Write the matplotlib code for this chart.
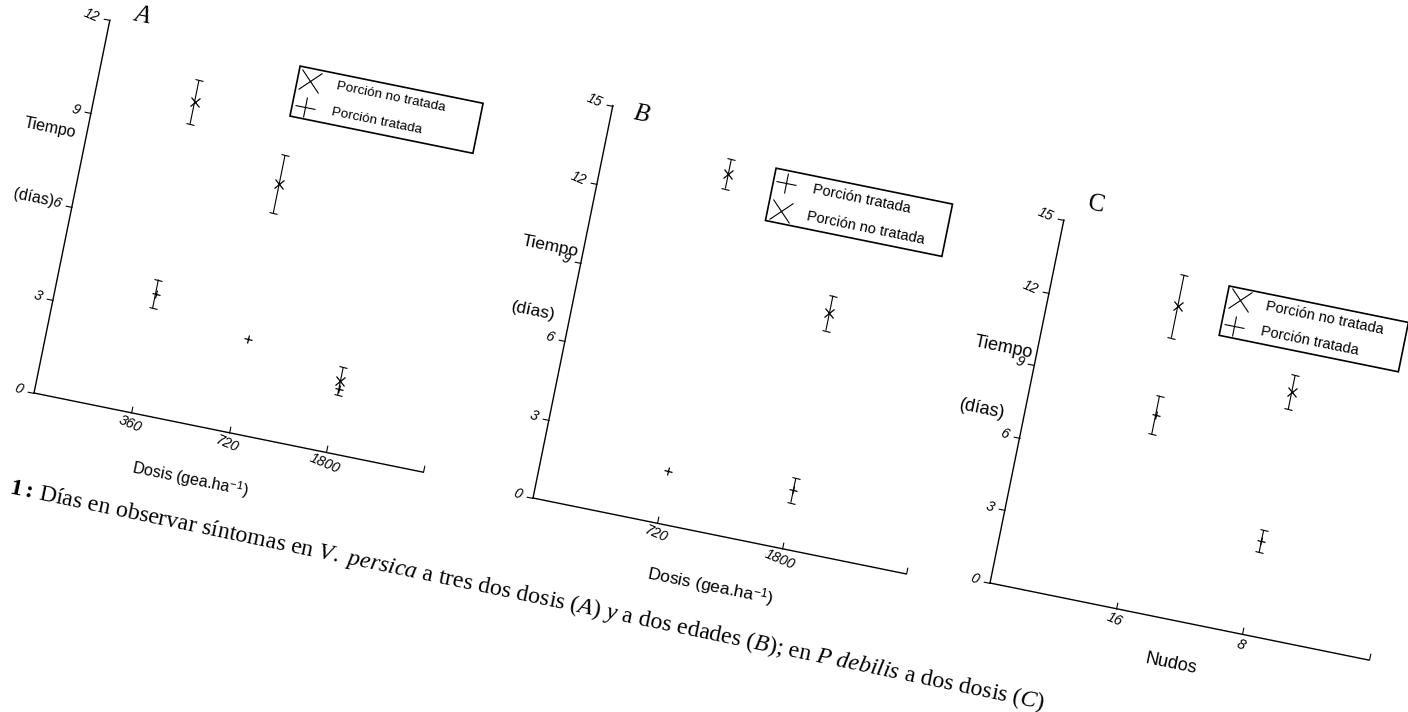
import numpy as np
import matplotlib
matplotlib.use('Agg')
import matplotlib.pyplot as plt
from matplotlib.transforms import Affine2D
from matplotlib.markers import MarkerStyle
from matplotlib.patches import Rectangle
import mpl_toolkits.axisartist.floating_axes as floating_axes
from mpl_toolkits.axisartist.grid_finder import FixedLocator, DictFormatter

plt.rcParams['font.family'] = ['Liberation Sans', 'DejaVu Sans']
plt.rcParams['mathtext.fontset'] = 'custom'
plt.rcParams['mathtext.rm'] = 'Liberation Serif'
plt.rcParams['mathtext.it'] = 'Liberation Serif:italic'
plt.rcParams['mathtext.bf'] = 'Liberation Serif:bold'
plt.rcParams['mathtext.sf'] = 'Liberation Sans'

# --- data ---
# A: V. persica, three doses
a_labels = ['360', '720', '1800']
a_no_tratada = [10.0, 8.0, 2.3]
a_no_tratada_err = [0.7, 0.93, 0.45]
a_tratada = [3.83, 3.0, 2.05]
a_tratada_err = [0.46, 0.0, 0.0]

# B: V. persica, two ages
b_labels = ['720', '1800']
b_no_tratada = [13.35, 9.0]
b_no_tratada_err = [0.56, 0.67]
b_tratada = [2.0, 2.22]
b_tratada_err = [0.0, 0.46]

# C: P. debilis, two doses
c_labels = ['16', '8']
c_no_tratada = [12.5, 10.0]
c_no_tratada_err = [1.3, 0.7]
c_tratada = [8.0, 3.85]
c_tratada_err = [0.8, 0.45]

NO_TRAT = 'Porción no tratada'
TRAT = 'Porción tratada'

W, H = 1408, 712
ANG = 11.5  # the scan is tilted clockwise
rot = Affine2D().rotate_deg(-ANG)

panels = [
    dict(letter='A', letter_style='italic', labels=a_labels,
         series=[(a_no_tratada, a_no_tratada_err, 'x'), (a_tratada, a_tratada_err, '+')],
         legend_rows=[(NO_TRAT, 'x'), (TRAT, '+')],
         xlabel=r'Dosis (gea.ha$^{\mathsf{-1}}$)',
         origin=(34, 393), ux=99.3, uy=31.7, xmax=4, ymax=12,
         legend=(1.97, 3.85, 10.17, 11.78), fs_leg=9.7, fs_lab=11.5,
         tiempo=(-0.38, 8.3), dias=(-0.40, 6.02), xlab=(1.71, -1.70), let=(0.31, 12.33)),
    dict(letter='B', letter_style='italic', labels=b_labels,
         series=[(b_no_tratada, b_no_tratada_err, 'x'), (b_tratada, b_tratada_err, '+')],
         legend_rows=[(TRAT, '+'), (NO_TRAT, 'x')],
         xlabel=r'Dosis (gea.ha$^{\mathsf{-1}}$)',
         origin=(533, 498), ux=126.8, uy=26.7, xmax=3, ymax=15,
         legend=(1.36, 2.78, 11.92, 13.92), fs_leg=10.5, fs_lab=12.5,
         tiempo=(-0.26, 9.37), dias=(-0.29, 6.85), xlab=(1.51, -1.95), let=(0.235, 14.88)),
    dict(letter='C', letter_style='normal', labels=c_labels,
         series=[(c_no_tratada, c_no_tratada_err, 'x'), (c_tratada, c_tratada_err, '+')],
         legend_rows=[(NO_TRAT, 'x'), (TRAT, '+')],
         xlabel='Nudos',
         origin=(990, 583), ux=128.8, uy=24.69, xmax=3, ymax=15,
         legend=(1.36, 2.78, 11.68, 13.72), fs_leg=10.5, fs_lab=13,
         tiempo=(-0.26, 9.44), dias=(-0.33, 6.82), xlab=(1.5, -1.75), let=(0.22, 15.87)),
]

fig = plt.figure(figsize=(W / 100, H / 100), dpi=100)


def make_panel(p):
    n = len(p['labels'])
    xticks = list(range(1, n + 1))
    yticks = list(range(0, p['ymax'] + 1, 3))
    tr = Affine2D().scale(p['ux'], p['uy']).rotate_deg(-ANG)
    fmt_x = {k: v for k, v in zip(xticks, p['labels'])}
    gh = floating_axes.GridHelperCurveLinear(
        tr, extremes=(0, p['xmax'], 0, p['ymax']),
        grid_locator1=FixedLocator(xticks + [p['xmax']]),
        tick_formatter1=DictFormatter(fmt_x),
        grid_locator2=FixedLocator(yticks),
        tick_formatter2=DictFormatter({v: str(v) for v in yticks}))

    # size the axes box so one parent unit is one pixel
    corners = tr.transform([(0, 0), (p['xmax'], 0), (0, p['ymax']), (p['xmax'], p['ymax'])])
    x0, y0 = corners.min(axis=0)
    x1, y1 = corners.max(axis=0)
    cx = p['origin'][0] + (x0 + x1) / 2
    cy = (H - p['origin'][1]) + (y0 + y1) / 2
    w = (x1 - x0) * 1.02
    h = (y1 - y0) * 1.02
    ax = fig.add_axes([(cx - w / 2) / W, (cy - h / 2) / H, w / W, h / H],
                      axes_class=floating_axes.FloatingAxes, grid_helper=gh)
    ax.patch.set_facecolor('none')
    ax.axis['top'].set_visible(False)
    ax.axis['right'].set_visible(False)
    for side, fs in [('left', 10), ('bottom', 10.3)]:
        ax.axis[side].line.set_linewidth(1.0)
        ax.axis[side].major_ticks.set_ticksize(5)
        tl = ax.axis[side].major_ticklabels
        tl.set_fontsize(fs)
        tl.set_fontstyle('italic')
        tl.set_rotation(tl.get_rotation() - ANG)
    ax.axis['left'].major_ticks.set_tick_out(True)

    aux = ax.get_aux_axes(tr)
    x = np.arange(1, n + 1)
    for vals, errs, mk in p['series']:
        vals = np.asarray(vals)
        errs = np.asarray(errs)
        has_err = errs > 0
        if has_err.any():
            _, caps, _ = aux.errorbar(x[has_err], vals[has_err], yerr=errs[has_err], fmt='none',
                                      ecolor='k', elinewidth=0.8, capsize=3, capthick=0.8,
                                      clip_on=False)
            for c in caps:
                c.set_marker(MarkerStyle('_', transform=rot))
        aux.plot(x, vals, ls='none', marker=MarkerStyle(mk, transform=rot),
                 ms=6.5 if mk == 'x' else 6, mew=0.9, color='k', clip_on=False)

    # hand-drawn legend box, tilted with the page
    lx0, lx1, ly0, ly1 = p['legend']
    aux.add_patch(Rectangle((lx0, ly0), lx1 - lx0, ly1 - ly0, fill=False, ec='k', lw=1.2,
                            clip_on=False))
    for frac, (label, mk) in zip([0.76, 0.24], p['legend_rows']):
        ry = ly0 + frac * (ly1 - ly0)
        aux.plot([lx0 + 13 / p['ux']], [ry], ls='none', marker=MarkerStyle(mk, transform=rot),
                 ms=15, mew=0.8, color='k', clip_on=False)
        aux.text(lx0 + 40 / p['ux'], ry, label, fontsize=p['fs_leg'], rotation=-ANG,
                 rotation_mode='anchor', ha='left', va='center')

    txt = dict(rotation=-ANG, rotation_mode='anchor', ha='center', va='center')
    aux.text(*p['tiempo'], 'Tiempo', fontsize=p['fs_lab'], **txt)
    aux.text(*p['dias'], '(días)', fontsize=p['fs_lab'], **txt)
    aux.text(*p['xlab'], p['xlabel'], fontsize=p['fs_lab'], **txt)
    aux.text(*p['let'], p['letter'], fontsize=18, family='Liberation Serif',
             style=p['letter_style'], **txt)
    return ax


for p in panels:
    make_panel(p)

# caption of the scanned page (its left part is cut off in the scan)
CAP_ANG = 11.8
cap_x, cap_y = 37, 499
dx, dy = 6 * np.cos(np.deg2rad(CAP_ANG)), 6 * np.sin(np.deg2rad(CAP_ANG))
fig.text((cap_x - dx) / W, (H - cap_y + dy) / H, r'$\mathbf{1:}$', fontsize=17.2,
         family='Liberation Serif', rotation=-CAP_ANG, rotation_mode='anchor',
         ha='right', va='baseline')
fig.text(cap_x / W, (H - cap_y) / H,
         r'Días en observar síntomas en $\mathit{V.\ persica}$ a tres dos dosis '
         r'($\mathit{A}$) $\mathit{y}$ a dos edades ($\mathit{B}$); en '
         r'$\mathit{P\ debilis}$ a dos dosis ($\mathit{C}$)',
         fontsize=17.2, family='Liberation Serif', rotation=-CAP_ANG, rotation_mode='anchor',
         ha='left', va='baseline')

fig.savefig('out.png', dpi=100, facecolor='white')
